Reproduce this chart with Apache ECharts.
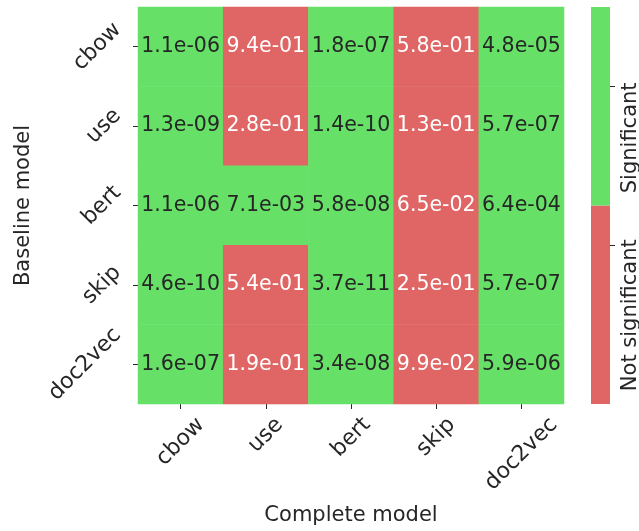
<!DOCTYPE html>
<html>
<head>
<meta charset="utf-8">
<script src="https://cdn.jsdelivr.net/npm/echarts@6/dist/echarts.min.js"></script>
<style>
  html, body { margin: 0; padding: 0; background: #ffffff; }
  #chart { width: 639px; height: 531px; }
</style>
</head>
<body>
<div id="chart"></div>
<script>
// Models compared: columns = complete model, rows = baseline model
const completeModels = ['cbow', 'use', 'bert', 'skip', 'doc2vec'];
const baselineModels = ['cbow', 'use', 'bert', 'skip', 'doc2vec'];

// p-values, one row per baseline model (same column order as completeModels)
const pCbow    = [1.1e-06, 9.4e-01, 1.8e-07, 5.8e-01, 4.8e-05];
const pUse     = [1.3e-09, 2.8e-01, 1.4e-10, 1.3e-01, 5.7e-07];
const pBert    = [1.1e-06, 7.1e-03, 5.8e-08, 6.5e-02, 6.4e-04];
const pSkip    = [4.6e-10, 5.4e-01, 3.7e-11, 2.5e-01, 5.7e-07];
const pDoc2vec = [1.6e-07, 1.9e-01, 3.4e-08, 9.9e-02, 5.9e-06];
const pRows = [pCbow, pUse, pBert, pSkip, pDoc2vec];

const alpha = 0.05;

// Colour bar: two classes, bottom to top
const cbarLabels = ['Not significant', 'Significant'];
const cbarSegments = [0.5, 0.5];
const cbarTickValues = [0.4, 0.8];
const cbarLabelValues = [0.415, 0.81];

const GREEN = '#66e066';
const RED = '#e06666';
const DARK = '#262626';
const FONT = 'DejaVu Sans';
const FS = 21;         // axis titles, colour bar labels
const FS_CELL = 20.5;  // cell annotations
const FS_TICK = 22;    // category tick labels

function fmtP(p) {
  const parts = p.toExponential(1).split('e');
  const n = parseInt(parts[1], 10);
  return parts[0] + 'e' + (n < 0 ? '-' : '+') + String(Math.abs(n)).padStart(2, '0');
}

// Measure label widths so rotated labels can be laid out like centred bounding boxes
const ctx = document.createElement('canvas').getContext('2d');
ctx.font = FS_TICK + 'px "' + FONT + '"';
function widths(list) { return list.map(s => ctx.measureText(s).width); }

function richFor(list, side) {
  const w = widths(list);
  const wmax = Math.max.apply(null, w);
  const rich = {};
  list.forEach((s, i) => {
    const d = 0.5 * (wmax - w[i]);
    rich['t' + i] = {
      fontSize: FS_TICK, fontFamily: FONT, color: DARK,
      padding: side === 'y' ? [d, 0, 0, d] : [0, 0, d, d]
    };
  });
  return rich;
}

const cells = [];
pRows.forEach((row, yi) => {
  row.forEach((p, xi) => {
    cells.push({
      value: [xi, yi, p],
      label: { color: p < alpha ? DARK : '#ffffff' }
    });
  });
});

const chart = echarts.init(document.getElementById('chart'), null, { renderer: 'canvas' });

chart.setOption({
  animation: false,
  backgroundColor: '#ffffff',
  textStyle: { fontFamily: FONT },
  grid: [
    { left: 138, top: 7, width: 426, height: 397, containLabel: false, outerBoundsMode: 'none' },
    { left: 591, top: 7, width: 19, height: 397, containLabel: false, outerBoundsMode: 'none' }
  ],
  xAxis: [
    {
      type: 'category', gridIndex: 0, data: completeModels,
      name: 'Complete model', nameLocation: 'middle', nameGap: 112,
      nameTextStyle: { fontSize: FS, fontFamily: FONT, color: DARK, verticalAlign: 'middle' },
      axisLine: { show: false },
      axisTick: { show: true, alignWithLabel: true, length: 5, lineStyle: { color: DARK, width: 1 } },
      splitLine: { show: false },
      axisLabel: {
        interval: 0, rotate: 45, margin: 50, align: 'center', verticalAlign: 'middle',
        hideOverlap: false,
        formatter: (v, i) => '{t' + i + '|' + v + '}',
        rich: richFor(completeModels, 'x')
      }
    },
    { type: 'category', gridIndex: 1, data: ['bar'], show: false }
  ],
  yAxis: [
    {
      type: 'category', gridIndex: 0, data: baselineModels, inverse: true,
      name: 'Baseline model', nameLocation: 'middle', nameGap: 114, nameRotate: 90,
      nameTextStyle: { fontSize: FS, fontFamily: FONT, color: DARK, verticalAlign: 'middle' },
      axisLine: { show: false },
      axisTick: { show: true, alignWithLabel: true, length: 5, lineStyle: { color: DARK, width: 1 } },
      splitLine: { show: false },
      axisLabel: {
        interval: 0, rotate: 45, margin: 53, align: 'center', verticalAlign: 'middle',
        hideOverlap: false,
        formatter: (v, i) => '{t' + i + '|' + v + '}',
        rich: richFor(baselineModels, 'y')
      }
    },
    {
      type: 'value', gridIndex: 1, min: 0, max: 1, position: 'right',
      axisLine: { show: false },
      splitLine: { show: false },
      axisTick: { show: true, length: 5, customValues: cbarTickValues, lineStyle: { color: DARK, width: 1 } },
      axisLabel: {
        customValues: cbarLabelValues, rotate: 90, margin: 20.5,
        align: 'right', verticalAlign: 'middle',
        fontSize: FS, fontFamily: FONT, color: DARK,
        formatter: (v) => {
          let best = 0;
          cbarLabelValues.forEach((c, i) => {
            if (Math.abs(c - v) < Math.abs(cbarLabelValues[best] - v)) best = i;
          });
          return cbarLabels[best];
        }
      }
    }
  ],
  visualMap: {
    show: false, type: 'piecewise', seriesIndex: 0, dimension: 2,
    pieces: [
      { lt: alpha, color: GREEN },
      { gte: alpha, color: RED }
    ]
  },
  series: [
    {
      type: 'heatmap', xAxisIndex: 0, yAxisIndex: 0, data: cells,
      label: {
        show: true, fontSize: FS_CELL, fontFamily: FONT,
        formatter: (pr) => fmtP(pr.value[2])
      },
      itemStyle: { borderWidth: 0 },
      emphasis: { disabled: true }
    },
    {
      type: 'bar', xAxisIndex: 1, yAxisIndex: 1, stack: 'cbar', barWidth: '100%',
      data: [cbarSegments[0]], itemStyle: { color: RED }, silent: true
    },
    {
      type: 'bar', xAxisIndex: 1, yAxisIndex: 1, stack: 'cbar', barWidth: '100%',
      data: [cbarSegments[1]], itemStyle: { color: GREEN }, silent: true
    }
  ]
});
</script>
</body>
</html>
